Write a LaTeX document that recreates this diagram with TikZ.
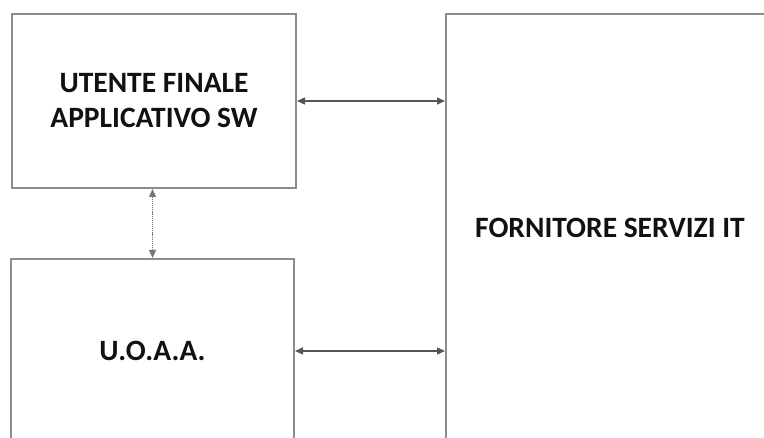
\documentclass[tikz,border=0pt]{standalone}
\usepackage{fontspec}
\setmainfont{Carlito}
\usetikzlibrary{arrows.meta}
\definecolor{boxline}{HTML}{8C8C8C}
\definecolor{arrowcol}{HTML}{555555}
\definecolor{txt}{HTML}{111111}
\tikzset{
  blockbox/.style={draw=boxline, line width=2pt, fill=white, inner sep=0pt, align=center,
    font=\fontsize{29.5}{35}\selectfont\bfseries, text=txt},
  link/.style={draw=arrowcol, line width=1.4pt, {Triangle[length=8pt,width=7pt]}-{Triangle[length=8pt,width=7pt]}},
  dottedlink/.style={draw=arrowcol!80, line width=1.2pt, dash pattern=on 1.2pt off 0.9pt,
    {Triangle[length=8pt,width=7pt]}-{Triangle[length=8pt,width=7pt]}}
}
\begin{document}
\begin{tikzpicture}[x=1pt,y=-1pt]
\useasboundingbox (0,0) rectangle (764,438);
\clip (0,0) rectangle (764,438);
\node[blockbox, minimum width=284pt, minimum height=174pt] (user) at (154,101) {UTENTE FINALE\\APPLICATIVO SW};
\node[blockbox, minimum width=283pt, minimum height=184pt] (uoaa) at (152.5,351) {U.O.A.A.};
\node[blockbox, minimum width=328pt, minimum height=428pt] (it) at (610,228) {FORNITORE SERVIZI IT};
\draw[link] (user.east) -- (user.east -| it.west);
\draw[link] (uoaa.east) -- (uoaa.east -| it.west);
\coordinate (vtop) at (uoaa.north |- user.south);
\draw[dottedlink] (vtop) -- (uoaa.north);
\end{tikzpicture}
\end{document}
